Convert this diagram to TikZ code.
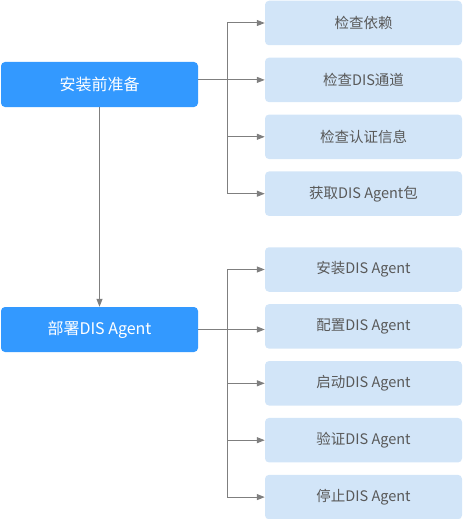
\documentclass[tikz,border=0pt]{standalone}
\usepackage{fontspec}
\newfontfamily\cjk{Noto Sans CJK SC}
\usetikzlibrary{positioning}
\usetikzlibrary{arrows.meta}
\definecolor{phaseblue}{HTML}{3399FF}
\definecolor{tasklight}{HTML}{D2E5F8}
\definecolor{linegray}{HTML}{7F7F7F}
\definecolor{textgray}{HTML}{595959}
\tikzset{
	box/.style = {
		rectangle,
		rounded corners=4pt,
		inner sep=0pt,
		align=center,
		minimum width=197pt
	},
	phase/.style = {
		box,
		fill=phaseblue,
		text=white,
		font=\cjk\fontsize{16}{19}\selectfont,
		minimum height=45pt
	},
	task/.style = {
		box,
		fill=tasklight,
		text=textgray,
		font=\cjk\fontsize{14.5}{17}\selectfont,
		minimum height=44.5pt
	},
	trunk/.style = {
		draw=linegray,
		line width=1pt
	},
	link/.style = {
		trunk,
		-{Triangle[length=8pt,width=6pt]}
	},
}

\begin{document}
\begin{tikzpicture}[node distance=12pt]
\useasboundingbox (0,0) rectangle (463pt,-519pt);
\node [phase] (prep) at (99.5pt,-84.5pt) {安装前准备};
\node [phase] (deploy) at (99.5pt,-329.5pt) {部署DIS Agent};

\node [task] (chk_dep) at (363.5pt,-23pt) {检查依赖};
\node [task, below=of chk_dep] (chk_dis) {检查DIS通道};
\node [task, below=of chk_dis] (chk_auth) {检查认证信息};
\node [task, below=of chk_auth] (get_pkg) {获取DIS Agent包};

\node [task] (inst) at (363.5pt,-269.5pt) {安装DIS Agent};
\node [task, below=of inst] (conf) {配置DIS Agent};
\node [task, below=of conf] (start) {启动DIS Agent};
\node [task, below=of start] (verify) {验证DIS Agent};
\node [task, below=of verify] (stop) {停止DIS Agent};

\coordinate (fork) at (227pt,0);
\draw [link] (prep) -- (deploy);

\draw [trunk] (fork |- chk_dep.west) -- (fork |- get_pkg.west);
\foreach \t in {chk_dep, chk_auth, get_pkg}
	\draw [link] (fork |- \t.west) -- (\t.west);
\draw [link] (prep.east |- chk_dis.west) -- (chk_dis.west);

\draw [trunk] (fork |- inst.west) -- (fork |- stop.west);
\foreach \t in {inst, start, verify, stop}
	\draw [link] (fork |- \t.west) -- (\t.west);
\draw [link] (deploy.east) -- (deploy.east -| conf.west);
\end{tikzpicture}
\end{document}
